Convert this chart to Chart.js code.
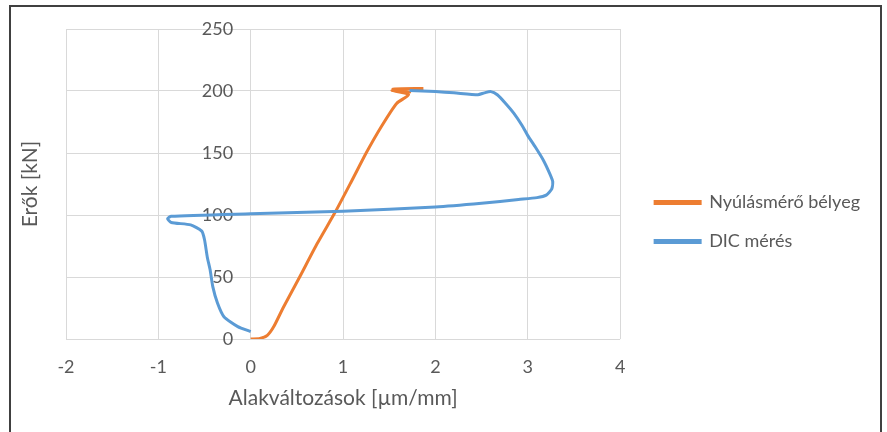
<!DOCTYPE html>
<html>
<head>
<meta charset="utf-8">
<script src="https://cdn.jsdelivr.net/npm/chart.js@4"></script>
<style>
  body { margin: 0; background: #fff; }
  #wrap { position: relative; width: 887px; height: 432px; overflow: hidden; }
  #frame { position: absolute; left: 9px; top: 5px; width: 869px; height: 440px; border: 2px solid #404040; pointer-events: none; }
  canvas { position: absolute; left: 0; top: 0; }
</style>
</head>
<body>
<div id="wrap">
  <canvas id="chart" width="887" height="432"></canvas>
  <div id="frame"></div>
</div>
<script>
// Nyúlásmérő bélyeg (orange)
const gaugeX = [0, 0.1, 0.18, 0.25, 0.35, 0.53, 0.72, 0.92, 1.09, 1.25, 1.42, 1.58, 1.71, 1.53, 1.72, 1.54, 1.87];
const gaugeY = [0, 0.5, 3, 10, 25, 50, 77, 103, 127, 150, 172, 190, 197, 200.5, 199, 201.5, 202];

// DIC mérés (blue)
const dicX = [0, -0.14, -0.29, -0.36, -0.41, -0.44, -0.47, -0.5, -0.53, -0.65, -0.86, -0.9, -0.86, 0, 1, 2, 2.5, 2.9, 3.1, 3.2, 3.26, 3.27, 3.24, 3.17, 3.08, 3.0, 2.94, 2.85, 2.76, 2.67, 2.6, 2.53, 2.46, 2.2, 2.0, 1.72];
const dicY = [6, 10, 18, 29, 42, 56, 66, 80, 87, 92, 94, 97, 99, 101, 103, 106.5, 109.5, 112.5, 114, 116, 121, 127, 133, 144, 155, 164, 172, 182, 190, 197, 199.5, 198.5, 197, 198.5, 199.5, 200.5];

const xTicks = [-2, -1, 0, 1, 2, 3, 4];
const yTicks = [0, 50, 100, 150, 200, 250];

const toPoints = (xs, ys) => xs.map((x, i) => ({ x: x, y: ys[i] }));

const textColor = "#595959";
const gridColor = "#d9d9d9";
const fontFamily = "Lato, 'Open Sans', sans-serif";

new Chart(document.getElementById("chart").getContext("2d"), {
  type: "scatter",
  data: {
    datasets: [
      {
        label: "Nyúlásmérő bélyeg",
        data: toPoints(gaugeX, gaugeY),
        borderColor: "#ed7d31",
        backgroundColor: "#ed7d31",
        borderWidth: 3,
        showLine: true,
        pointRadius: 0,
        tension: 0.2,
        order: 2,
      },
      {
        label: "DIC mérés",
        data: toPoints(dicX, dicY),
        borderColor: "#5b9bd5",
        backgroundColor: "#5b9bd5",
        borderWidth: 3,
        showLine: true,
        pointRadius: 0,
        tension: 0.2,
        order: 1,
      },
    ],
  },
  options: {
    responsive: false,
    animation: false,
    devicePixelRatio: 1,
    layout: { padding: { top: 29, left: 14, right: 17, bottom: 17 } },
    scales: {
      x: {
        type: "linear",
        position: "bottom",
        min: xTicks[0],
        max: xTicks[xTicks.length - 1],
        afterBuildTicks: (scale) => { scale.ticks = xTicks.map((v) => ({ value: v })); },
        afterFit: (scale) => { scale.height = 76; },
        ticks: { padding: 17, color: textColor, font: { family: fontFamily, size: 18 } },
        grid: { color: gridColor, drawTicks: false },
        border: { display: false },
        title: {
          display: true,
          text: "Alakváltozások [µm/mm]",
          color: textColor,
          font: { family: fontFamily, size: 21 },
          padding: { top: 4, bottom: 4 },
        },
      },
      y: {
        type: "linear",
        // labels sit a little left of the x = 0 line, as in the original
        position: { x: -0.19 },
        min: yTicks[0],
        max: yTicks[yTicks.length - 1],
        afterBuildTicks: (scale) => { scale.ticks = yTicks.map((v) => ({ value: v })); },
        ticks: { color: textColor, font: { family: fontFamily, size: 18 } },
        grid: { color: gridColor, drawTicks: false },
        border: { display: false },
      },
      yTitle: {
        type: "linear",
        axis: "y",
        position: "left",
        min: yTicks[0],
        max: yTicks[yTicks.length - 1],
        ticks: { display: false },
        grid: { display: false },
        border: { display: false },
        afterFit: (scale) => { scale.width = 52; },
        title: {
          display: true,
          text: "Erők [kN]",
          color: textColor,
          font: { family: fontFamily, size: 21 },
          padding: { top: 4, bottom: 4 },
        },
      },
      // empty spacer between plot and legend
      ySpacer: {
        type: "linear",
        axis: "y",
        position: "right",
        min: yTicks[0],
        max: yTicks[yTicks.length - 1],
        ticks: { display: false },
        grid: { display: false },
        border: { display: false },
        afterFit: (scale) => { scale.width = 14; },
      },
    },
    plugins: {
      legend: {
        position: "right",
        align: "center",
        maxWidth: 320,
        labels: {
          boxWidth: 45,
          boxHeight: 2,
          padding: 21,
          color: textColor,
          font: { family: fontFamily, size: 18 },
          sort: (a, b) => a.datasetIndex - b.datasetIndex,
        },
      },
      tooltip: { enabled: false },
    },
  },
});
</script>
</body>
</html>
